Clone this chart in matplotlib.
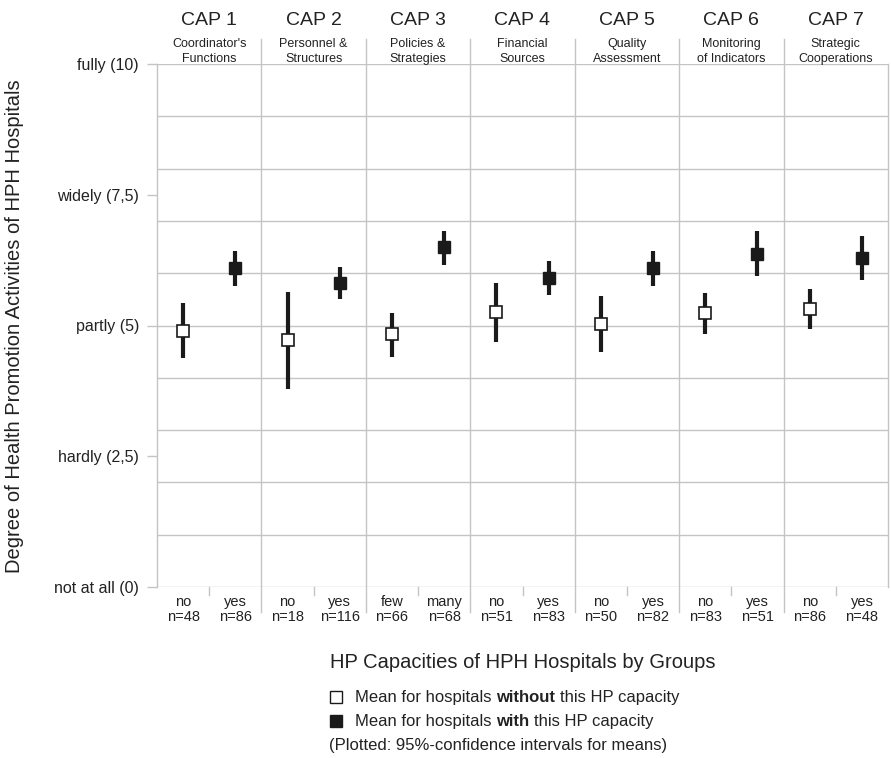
import numpy as np
import matplotlib
matplotlib.use("Agg")
import matplotlib.pyplot as plt
from matplotlib.lines import Line2D
import matplotlib.transforms as mtransforms

plt.rcParams['font.family'] = ['Liberation Sans', 'DejaVu Sans']

# ---------------- DATA ---------------- #
caps = ["CAP 1", "CAP 2", "CAP 3", "CAP 4", "CAP 5", "CAP 6", "CAP 7"]
cap_names = [("Coordinator's", "Functions"), ("Personnel &", "Structures"),
             ("Policies &", "Strategies"), ("Financial", "Sources"),
             ("Quality", "Assessment"), ("Monitoring", "of Indicators"),
             ("Strategic", "Cooperations")]
group_no = ["no", "no", "few", "no", "no", "no", "no"]
group_yes = ["yes", "yes", "many", "yes", "yes", "yes", "yes"]
n_no = [48, 18, 66, 51, 50, 83, 86]
n_yes = [86, 116, 68, 83, 82, 51, 48]

mean_no = [4.89, 4.72, 4.83, 5.26, 5.03, 5.24, 5.32]
low_no = [4.38, 3.79, 4.39, 4.68, 4.49, 4.84, 4.93]
high_no = [5.43, 5.64, 5.24, 5.81, 5.56, 5.62, 5.69]

mean_yes = [6.10, 5.81, 6.50, 5.91, 6.10, 6.37, 6.29]
low_yes = [5.76, 5.51, 6.16, 5.58, 5.76, 5.95, 5.87]
high_yes = [6.42, 6.12, 6.81, 6.24, 6.43, 6.81, 6.71]

ytick_vals = [0, 2.5, 5, 7.5, 10]
ytick_labels = ["not at all (0)", "hardly (2,5)", "partly (5)", "widely (7,5)", "fully (10)"]

# ---------------- FIGURE ---------------- #
W, H = 891, 758
def fx(x):
    return x / W
def fy(y):
    return (H - y) / H

fig = plt.figure(figsize=(W / 100, H / 100), dpi=100)
ax = fig.add_axes([fx(157), fy(587), (888 - 157) / W, 523 / H])

grid_c = "#c4c4c4"
txt_c = "#222222"

ncap = len(caps)
x_no = np.arange(ncap) * 2 + 0.5
x_yes = np.arange(ncap) * 2 + 1.5

ax.set_xlim(0, 2 * ncap)
ax.set_ylim(0, 10)

# horizontal grid
for yv in range(0, 11):
    ax.axhline(yv, color=grid_c, lw=1.0, zorder=1)

# column separators (extend above and below the plot)
trans = mtransforms.blended_transform_factory(ax.transData, ax.transAxes)
for xs in range(2, 2 * ncap, 2):
    ax.add_line(Line2D([xs, xs], [-0.048, 1.048], transform=trans,
                       color=grid_c, lw=1.0, clip_on=False, zorder=1))
# short ticks between the pairs
for xs in range(1, 2 * ncap, 2):
    ax.add_line(Line2D([xs, xs], [-0.016, 0], transform=trans,
                       color=grid_c, lw=1.0, clip_on=False, zorder=1))

# error bars + means
err_no = [np.array(mean_no) - np.array(low_no), np.array(high_no) - np.array(mean_no)]
err_yes = [np.array(mean_yes) - np.array(low_yes), np.array(high_yes) - np.array(mean_yes)]
ax.errorbar(x_no, mean_no, yerr=err_no, fmt='s', ms=8.5, mfc='white', mec='#1a1a1a',
            mew=1.2, ecolor='#1a1a1a', elinewidth=3.0, capsize=0, zorder=3)
ax.errorbar(x_yes, mean_yes, yerr=err_yes, fmt='s', ms=8.0, mfc='#1a1a1a', mec='#1a1a1a',
            mew=1.0, ecolor='#1a1a1a', elinewidth=3.0, capsize=0, zorder=3)

# spines
for s in ['top', 'bottom']:
    ax.spines[s].set_visible(False)
for s in ['left', 'right']:
    ax.spines[s].set_color(grid_c)
    ax.spines[s].set_linewidth(1.0)

ax.set_yticks(ytick_vals)
ax.set_yticklabels(ytick_labels, fontsize=11.5, color=txt_c)
ax.tick_params(axis='y', length=7, width=1.0, color=grid_c, pad=6)

xpos = np.concatenate([x_no, x_yes])
xlabels = [f"{g}\nn={n}" for g, n in zip(group_no, n_no)] + \
          [f"{g}\nn={n}" for g, n in zip(group_yes, n_yes)]
ax.set_xticks(xpos)
ax.set_xticklabels(xlabels, fontsize=10.5, color=txt_c, linespacing=1.1)
ax.tick_params(axis='x', length=0, pad=6)

# column headers
for i in range(ncap):
    xc = 2 * i + 1
    ax.text(xc, (587 - 25) / 523, caps[i], transform=trans, ha='center',
            va='baseline', fontsize=14, color=txt_c)
    ax.text(xc, (587 - 47) / 523, cap_names[i][0], transform=trans, ha='center',
            va='baseline', fontsize=9, color=txt_c)
    ax.text(xc, (587 - 62) / 523, cap_names[i][1], transform=trans, ha='center',
            va='baseline', fontsize=9, color=txt_c)

# y label
fig.text(fx(15), fy(326), "Degree of Health Promotion Activities of HPH Hospitals",
         rotation=90, ha='center', va='center', fontsize=14.5, color=txt_c)

# ---------------- LEGEND ---------------- #
fig.text(fx(330), fy(668), "HP Capacities of HPH Hospitals by Groups",
         ha='left', va='baseline', fontsize=14.5, color=txt_c)

renderer = fig.canvas.get_renderer()
space = 12 * 0.278 * 100 / 72

def mixed_line(x0, y0, parts):
    x = x0
    for txt, bold in parts:
        t = fig.text(fx(x), fy(y0), txt, ha='left', va='baseline', fontsize=12,
                     color=txt_c, fontweight='bold' if bold else 'normal')
        x += t.get_window_extent(renderer).width + space

fig.add_artist(Line2D([fx(336)], [fy(697)], marker='s', ms=8, mfc='white',
                      mec='#1a1a1a', mew=1.0, transform=fig.transFigure))
fig.add_artist(Line2D([fx(336)], [fy(721)], marker='s', ms=8, mfc='#1a1a1a',
                      mec='#1a1a1a', mew=1.0, transform=fig.transFigure))

mixed_line(355, 702, [("Mean for hospitals", False), ("without", True), ("this HP capacity", False)])
mixed_line(355, 726, [("Mean for hospitals", False), ("with", True), ("this HP capacity", False)])
fig.text(fx(329), fy(750), "(Plotted: 95%-confidence intervals for means)",
         ha='left', va='baseline', fontsize=12, color=txt_c)

fig.savefig("out.png", dpi=100)
